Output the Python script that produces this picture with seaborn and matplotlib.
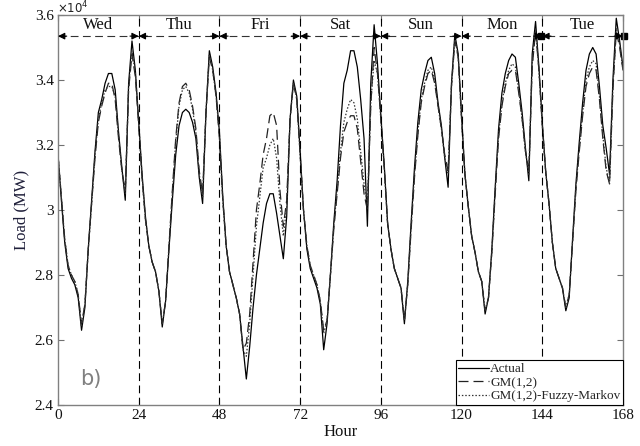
import matplotlib
matplotlib.use("Agg")
import matplotlib.pyplot as plt
import seaborn as sns
import numpy as np

# hourly load, x10^4 MW, Wed 0h .. Tue 24h
hours = list(range(169))
days = ["Wed", "Thu", "Fri", "Sat", "Sun", "Mon", "Tue"]
day_ticks = [0, 24, 48, 72, 96, 120, 144, 168]

actual = [
    3.17, 3.03, 2.90, 2.82, 2.79, 2.77, 2.73, 2.63, 2.70, 2.88, 3.03, 3.18, 3.30, 3.34, 3.39, 3.42, 3.42, 3.37, 3.24, 3.13, 3.03, 3.39, 3.52, 3.43,
    3.27, 3.11, 2.98, 2.89, 2.84, 2.81, 2.75, 2.64, 2.72, 2.88, 3.03, 3.17, 3.26, 3.30, 3.31, 3.30, 3.27, 3.22, 3.10, 3.02, 3.30, 3.49, 3.44, 3.36,
    3.24, 3.04, 2.89, 2.81, 2.77, 2.73, 2.68, 2.58, 2.48, 2.58, 2.70, 2.80, 2.88, 2.96, 3.02, 3.05, 3.05, 2.99, 2.92, 2.85, 2.98, 3.28, 3.40, 3.35,
    3.18, 3.00, 2.88, 2.82, 2.79, 2.76, 2.71, 2.57, 2.65, 2.80, 2.96, 3.09, 3.26, 3.39, 3.43, 3.49, 3.49, 3.44, 3.34, 3.22, 2.95, 3.39, 3.57, 3.45,
    3.29, 3.14, 2.96, 2.88, 2.82, 2.79, 2.76, 2.65, 2.78, 2.96, 3.13, 3.27, 3.37, 3.42, 3.46, 3.47, 3.42, 3.33, 3.26, 3.16, 3.07, 3.39, 3.54, 3.48,
    3.29, 3.11, 3.01, 2.92, 2.87, 2.81, 2.78, 2.68, 2.73, 2.88, 3.07, 3.25, 3.36, 3.42, 3.46, 3.48, 3.47, 3.39, 3.30, 3.19, 3.09, 3.48, 3.58, 3.44,
    3.27, 3.12, 3.02, 2.90, 2.82, 2.79, 2.76, 2.69, 2.73, 2.91, 3.08, 3.21, 3.33, 3.43, 3.48, 3.50, 3.48, 3.38, 3.26, 3.19, 3.11, 3.40, 3.59, 3.52, 3.44,
]
gm12 = [
    3.17, 3.04, 2.91, 2.83, 2.80, 2.78, 2.74, 2.65, 2.71, 2.88, 3.02, 3.16, 3.27, 3.32, 3.36, 3.39, 3.39, 3.34, 3.22, 3.12, 3.06, 3.37, 3.48, 3.41,
    3.26, 3.10, 2.97, 2.89, 2.84, 2.81, 2.75, 2.65, 2.72, 2.89, 3.06, 3.22, 3.33, 3.38, 3.39, 3.37, 3.32, 3.25, 3.12, 3.05, 3.30, 3.47, 3.43, 3.35,
    3.22, 3.03, 2.89, 2.81, 2.77, 2.73, 2.68, 2.57, 2.59, 2.68, 2.84, 3.00, 3.08, 3.17, 3.22, 3.29, 3.30, 3.26, 3.06, 2.95, 3.03, 3.28, 3.39, 3.34,
    3.17, 3.00, 2.89, 2.83, 2.80, 2.77, 2.72, 2.63, 2.66, 2.80, 2.94, 3.05, 3.16, 3.24, 3.27, 3.29, 3.29, 3.25, 3.15, 3.05, 3.00, 3.32, 3.50, 3.42,
    3.28, 3.13, 2.96, 2.88, 2.82, 2.79, 2.76, 2.66, 2.77, 2.94, 3.10, 3.23, 3.33, 3.38, 3.42, 3.43, 3.39, 3.32, 3.25, 3.17, 3.12, 3.38, 3.52, 3.47,
    3.28, 3.11, 3.01, 2.92, 2.87, 2.81, 2.78, 2.69, 2.73, 2.87, 3.05, 3.22, 3.32, 3.38, 3.42, 3.43, 3.43, 3.36, 3.28, 3.18, 3.12, 3.44, 3.55, 3.43,
    3.26, 3.12, 3.02, 2.90, 2.82, 2.79, 2.76, 2.70, 2.74, 2.90, 3.06, 3.18, 3.29, 3.38, 3.42, 3.44, 3.43, 3.34, 3.22, 3.12, 3.08, 3.37, 3.55, 3.50, 3.43,
]
fuzzy = [
    3.17, 3.04, 2.91, 2.83, 2.80, 2.78, 2.74, 2.64, 2.71, 2.88, 3.02, 3.17, 3.28, 3.33, 3.37, 3.38, 3.38, 3.35, 3.23, 3.12, 3.05, 3.38, 3.49, 3.42,
    3.27, 3.10, 2.97, 2.89, 2.84, 2.81, 2.75, 2.65, 2.72, 2.89, 3.05, 3.21, 3.32, 3.37, 3.38, 3.36, 3.31, 3.24, 3.11, 3.04, 3.30, 3.48, 3.43, 3.35,
    3.23, 3.03, 2.89, 2.81, 2.77, 2.73, 2.68, 2.57, 2.55, 2.65, 2.80, 2.95, 3.04, 3.13, 3.16, 3.20, 3.22, 3.16, 3.02, 2.92, 3.01, 3.28, 3.39, 3.34,
    3.17, 3.00, 2.89, 2.83, 2.80, 2.77, 2.72, 2.62, 2.66, 2.80, 2.95, 3.06, 3.18, 3.27, 3.31, 3.34, 3.33, 3.28, 3.18, 3.08, 3.02, 3.33, 3.46, 3.42,
    3.28, 3.13, 2.96, 2.88, 2.82, 2.79, 2.76, 2.66, 2.77, 2.95, 3.11, 3.24, 3.34, 3.39, 3.43, 3.44, 3.40, 3.32, 3.25, 3.16, 3.11, 3.38, 3.53, 3.47,
    3.28, 3.11, 3.01, 2.92, 2.87, 2.81, 2.78, 2.69, 2.73, 2.87, 3.06, 3.23, 3.33, 3.39, 3.43, 3.45, 3.44, 3.37, 3.28, 3.18, 3.11, 3.45, 3.56, 3.43,
    3.26, 3.12, 3.02, 2.90, 2.82, 2.79, 2.76, 2.70, 2.74, 2.90, 3.07, 3.19, 3.30, 3.40, 3.44, 3.46, 3.45, 3.35, 3.23, 3.13, 3.08, 3.38, 3.56, 3.51, 3.43,
]

sns.set_style("ticks")
plt.rcParams['font.family'] = ['Liberation Serif', 'DejaVu Serif']
plt.rcParams['mathtext.fontset'] = 'dejavusans'

fig = plt.figure(figsize=(6.4, 4.46), dpi=100)
ax = fig.add_axes([58 / 640, 41 / 446, 565 / 640, 390 / 446])

sns.lineplot(x=hours, y=actual, ax=ax, color='black', lw=0.9, label='Actual')
sns.lineplot(x=hours, y=gm12, ax=ax, color='#222222', lw=0.9, dashes=(8, 4), label='GM(1,2)')
sns.lineplot(x=hours, y=fuzzy, ax=ax, color='#333333', lw=0.9, dashes=(1.2, 1.5), label='GM(1,2)-Fuzzy-Markov')

# day separators
for d in day_ticks[1:-1]:
    ax.axvline(d, color='black', lw=0.8, dashes=(7, 4))

# day arrows
ya = 3.535
ax.plot([0, 168], [ya, ya], color='#333333', lw=0.8, dashes=(7, 4))
for i, name in enumerate(days):
    s, e = day_ticks[i], day_ticks[i + 1]
    ax.annotate('', xy=(s, ya), xytext=(s + 2.6, ya),
                arrowprops=dict(arrowstyle='-|>', color='black', lw=0.8,
                                shrinkA=0, shrinkB=0, mutation_scale=10))
    ax.annotate('', xy=(e, ya), xytext=(e - 2.6, ya),
                arrowprops=dict(arrowstyle='-|>', color='black', lw=0.8,
                                shrinkA=0, shrinkB=0, mutation_scale=10))
    ax.text((s + e) / 2, 3.568, name, ha='center', va='center', fontsize=12, color='#111111')
ax.plot([143.6, 168.2], [ya, ya], ls='none', marker='s', ms=4, color='black', clip_on=False)

ax.text(6.5, 2.48, 'b)', fontsize=15, color='#808080', family='DejaVu Sans', ha='left', va='center')

ax.set_xlim(0, 168)
ax.set_ylim(2.4, 3.6)
ax.set_xticks(day_ticks)
ax.set_yticks([2.4, 2.6, 2.8, 3.0, 3.2, 3.4, 3.6])
ax.set_yticklabels(['2.4', '2.6', '2.8', '3', '3.2', '3.4', '3.6'])
ax.tick_params(direction='in', length=4, width=0.8, color='#707070', labelsize=11,
               labelcolor='#111111', top=True, right=True, pad=3)
for sp in ax.spines.values():
    sp.set_visible(True)
    sp.set_color('#808080')
    sp.set_linewidth(1.0)

ax.set_xlabel('Hour', fontsize=12, labelpad=1, color='#111111')
ax.set_ylabel('Load (MW)', fontsize=12, labelpad=4, color='#1f1f3a')
fig.text(57 / 640, 1 - 13 / 446, r'$\times10^{4}$', fontsize=8.5, va='baseline', ha='left', color='#222222')

leg = ax.legend(loc='lower right', borderaxespad=0, fontsize=9.5, frameon=True,
                fancybox=False, edgecolor='black', framealpha=1, handlelength=2.3,
                handletextpad=0.1, labelspacing=0.1, borderpad=0.2)
leg.get_frame().set_linewidth(0.8)

fig.savefig('out.png', dpi=100)
